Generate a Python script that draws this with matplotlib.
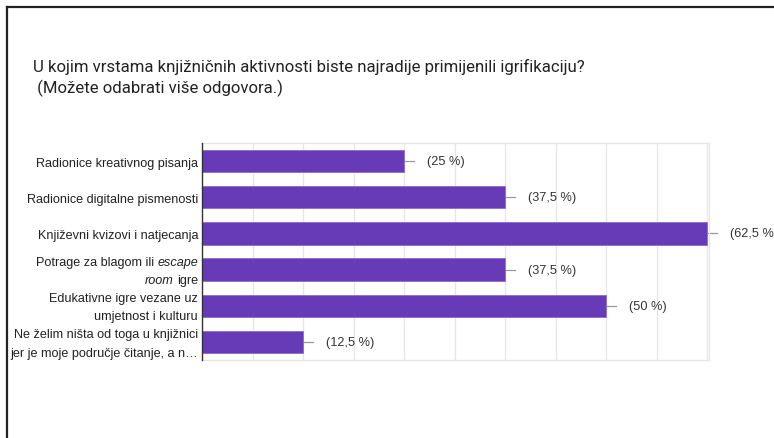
import matplotlib
matplotlib.use("Agg")
import matplotlib.pyplot as plt
from matplotlib import font_manager
from matplotlib.lines import Line2D

# Survey answers and their shares (percent of respondents)
categories = [
    "Radionice kreativnog pisanja",
    "Radionice digitalne pismenosti",
    "Književni kvizovi i natjecanja",
    "Potrage za blagom ili escape\nroom igre",
    "Edukativne igre vezane uz\numjetnost i kulturu",
    "Ne želim ništa od toga u knjižnici\njer je moje područje čitanje, a n…",
]
# Words set in italics inside the category names
italic_words = {"escape", "room"}
values = [25, 37.5, 62.5, 37.5, 50, 12.5]
title_lines = [
    "U kojim vrstama knjižničnih aktivnosti biste najradije primijenili igrifikaciju?",
    " (Možete odabrati više odgovora.)",
]

available = {f.name for f in font_manager.fontManager.ttflist}
label_font = "Liberation Sans" if "Liberation Sans" in available else "DejaVu Sans"
title_font = "Liberation Sans Narrow" if "Liberation Sans Narrow" in available else "Roboto"

plt.rcParams["font.family"] = [label_font, "DejaVu Sans"]

W, H = 774, 439
fig = plt.figure(figsize=(W / 100, H / 100), dpi=100)
fig.patch.set_facecolor("white")
renderer = fig.canvas.get_renderer()


def fx(x):
    return x / W


def fy(y):
    return 1 - y / H


# Frame lines along the top and left edges
fig.add_artist(Line2D([fx(7), fx(7)], [0, fy(8)], color="#222222", lw=1.6,
                      transform=fig.transFigure))
fig.add_artist(Line2D([fx(7), 1], [fy(8), fy(8)], color="#222222", lw=1.6,
                      transform=fig.transFigure))

# Title
for line, yy in zip(title_lines, [67, 88]):
    fig.text(fx(33), fy(yy), line, fontsize=12.1, family=[title_font, "DejaVu Sans"],
             color="#222222", va="center", ha="left")

left, right, top, bottom = 202, 709, 144, 361
ax = fig.add_axes([fx(left), fy(bottom), (right - left) / W, (bottom - top) / H])

n = len(values)
ypos = list(range(n))
bar_color = "#673AB7"
ax.barh(ypos, values, height=0.62, color=bar_color, edgecolor="#8e6cd0", linewidth=0.6, zorder=3)

xmax = 62.7
ax.set_xlim(0, xmax)
ax.set_ylim(n - 0.5, -0.5)

for i in range(1, 11):
    ax.axvline(6.25 * i, color="#e6e6e6", lw=0.9, zorder=1)

ax.set_xticks([])
ax.set_yticks([])

for s in ["top", "bottom", "right"]:
    ax.spines[s].set_color("#e6e6e6")
    ax.spines[s].set_linewidth(0.9)
ax.spines["left"].set_color("#333333")
ax.spines["left"].set_linewidth(1.0)
ax.spines["left"].set_zorder(4)

label_size = 9.05
line_pitch = 18.2
row_pitch = (bottom - top) / n
label_right = left - 4


def text_width(s, style="normal"):
    t = fig.text(0, 0, s, fontsize=label_size, style=style)
    w = t.get_window_extent(renderer).width
    t.remove()
    return w


space_w = text_width("n n") - text_width("nn")


def style_runs(line):
    # Group consecutive words that share a style
    runs = []
    for word in line.split(" "):
        style = "italic" if word in italic_words else "normal"
        if runs and runs[-1][1] == style:
            runs[-1][0].append(word)
        else:
            runs.append(([word], style))
    return [(" ".join(ws), st) for ws, st in runs]


# Category labels, right-aligned left of the axis, italics mixed in where needed
for i, cat in enumerate(categories):
    lines = cat.split("\n")
    center = top + (i + 0.5) * row_pitch
    for k, line in enumerate(lines):
        line_center = center + (k - (len(lines) - 1) / 2) * line_pitch
        baseline = line_center + 4.6
        x = label_right
        for run, style in reversed(style_runs(line)):
            t = fig.text(fx(x), fy(baseline), run, fontsize=label_size, style=style,
                         color="#222222", ha="right", va="baseline")
            x -= t.get_window_extent(renderer).width + space_w

# Value labels with short leader lines
px = xmax / (right - left)
for y, v in zip(ypos, values):
    ax.plot([v, v + 10 * px], [y, y], color="#999999", lw=0.9, zorder=2, clip_on=False)
    txt = "({} %)".format(("%g" % v).replace(".", ","))
    ax.text(v + 23 * px, y, txt, fontsize=9.2, color="#333333", va="center", ha="left",
            clip_on=False)

fig.savefig("out.png", dpi=100, facecolor="white")
